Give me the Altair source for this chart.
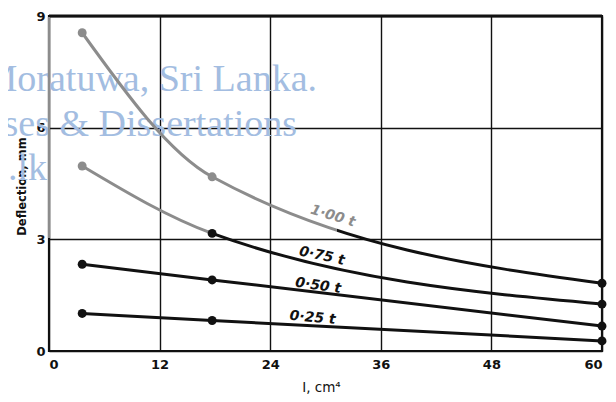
import altair as alt
import pandas as pd

# ---- data ----
I_cm4 = [3.6, 17.7, 60]
defl_100 = [8.55, 4.68, 1.82]
defl_075 = [4.97, 3.16, 1.26]
defl_050 = [2.33, 1.91, 0.67]
defl_025 = [1.01, 0.82, 0.27]
series_names = ["1·00 t", "0·75 t", "0·50 t", "0·25 t"]

label_x = [30.8, 29.6, 29.2, 28.6]
label_y = [3.62, 2.55, 1.75, 0.89]
label_angle = [17, 12, 8, 5]

x_ticks = [0, 12, 24, 36, 48, 60]
y_ticks = [0, 3, 6, 9]

watermark = ["Moratuwa, Sri Lanka.", "ses & Dissertations", "c.lk"]

GRAY = "#8c8c8c"
BLACK = "#111111"

rows = []
for name, vals in zip(series_names, [defl_100, defl_075, defl_050, defl_025]):
    for xv, yv in zip(I_cm4, vals):
        rows.append({"series": name, "I": xv, "D": yv})
df = pd.DataFrame(rows)

labels = pd.DataFrame({"series": series_names, "x": label_x, "y": label_y, "angle": label_angle})

xs = alt.Scale(domain=[0, 60], nice=False, zero=False)
ys = alt.Scale(domain=[0, 9], nice=False, zero=False)

X = alt.X("I:Q", scale=xs, axis=alt.Axis(
    values=x_ticks, title="I, cm⁴", grid=True, gridColor=BLACK, gridWidth=1.4,
    ticks=False, domain=False, labelFont="DejaVu Sans", labelFontWeight="bold",
    labelFontSize=13, labelColor=BLACK, labelPadding=7, titleFont="DejaVu Sans",
    titleFontSize=13.5, titleFontWeight="normal", titleColor=BLACK,
    titleX=272, titleY=43, titleAnchor="middle", titleBaseline="bottom"))
Y = alt.Y("D:Q", scale=ys, axis=alt.Axis(
    values=y_ticks, title="Deflection, mm", grid=True, gridColor=BLACK, gridWidth=1.4,
    ticks=False, domain=False, labelFont="DejaVu Sans", labelFontWeight="bold",
    labelFontSize=13, labelColor=BLACK, labelPadding=4, titleFont="DejaVu Sans",
    titleFontSize=11.5, titleFontWeight="bold", titleColor=BLACK,
    titleX=-27, titleY=170, titleAngle=-90, titleAnchor="middle", titleBaseline="middle"))

base = alt.Chart(df)

wm_layers = []
wm_pos = [(268, 75), (248, 120), (-2, 164)]
for txt, (px, py) in zip(watermark, wm_pos):
    wm_layers.append(
        alt.Chart(pd.DataFrame({"t": [txt]})).mark_text(
            font="Liberation Serif", fontSize=38, color="#a3bde1", align="right",
            baseline="alphabetic"
        ).encode(text="t:N", x=alt.value(px), y=alt.value(py))
    )

def grad(offset):
    return alt.Gradient(
        gradient="linear", x1=0, x2=1, y1=0, y2=0,
        stops=[alt.GradientStop(offset=0, color=GRAY),
               alt.GradientStop(offset=offset, color=GRAY),
               alt.GradientStop(offset=offset + 0.001, color=BLACK),
               alt.GradientStop(offset=1, color=BLACK)])

line100 = base.transform_filter(alt.datum.series == "1·00 t").mark_line(
    interpolate="monotone", strokeWidth=3, stroke=grad(0.49)).encode(x=X, y=Y)
line075 = base.transform_filter(alt.datum.series == "0·75 t").mark_line(
    interpolate="monotone", strokeWidth=3, stroke=grad(0.25)).encode(x=X, y=Y)
line_low = base.transform_filter(
    (alt.datum.series == "0·50 t") | (alt.datum.series == "0·25 t")).mark_line(
    interpolate="monotone", strokeWidth=3, color=BLACK).encode(x=X, y=Y, detail="series:N")

pts = base.mark_circle(size=80, opacity=1).encode(
    x=X, y=Y,
    color=alt.condition(
        "(datum.series == '1·00 t' && datum.I < 30) || (datum.series == '0·75 t' && datum.I < 10)",
        alt.value(GRAY), alt.value(BLACK)))

lab = alt.Chart(labels).mark_text(
    font="DejaVu Sans", fontSize=14, fontWeight="bold", fontStyle="italic",
    align="center", baseline="middle").encode(
    x=alt.X("x:Q", scale=xs), y=alt.Y("y:Q", scale=ys), text="series:N",
    angle=alt.Angle("angle:Q", scale=None),
    color=alt.condition("datum.series == '1·00 t'", alt.value(GRAY), alt.value(BLACK)))

# frame pieces
top_edge = alt.Chart(pd.DataFrame({"a": [0]})).mark_rule(color=BLACK, strokeWidth=3).encode(
    x=alt.value(0), x2=alt.value(553), y=alt.value(0))
left_gray = alt.Chart(pd.DataFrame({"a": [0]})).mark_rule(color=GRAY, strokeWidth=2.2).encode(
    x=alt.value(0), y=alt.value(1), y2=alt.value(222))

chart = alt.layer(*wm_layers, line100, line075, line_low, pts, lab, top_edge, left_gray).properties(
    width=553, height=335,
    autosize=alt.AutoSizeParams(type="none"),
    padding={"left": 41, "top": 8, "right": 6, "bottom": 50},
    background="white",
).configure_view(stroke=BLACK, strokeWidth=2.2)

chart.save("out.html", embed_options={"renderer": "svg", "actions": False})
